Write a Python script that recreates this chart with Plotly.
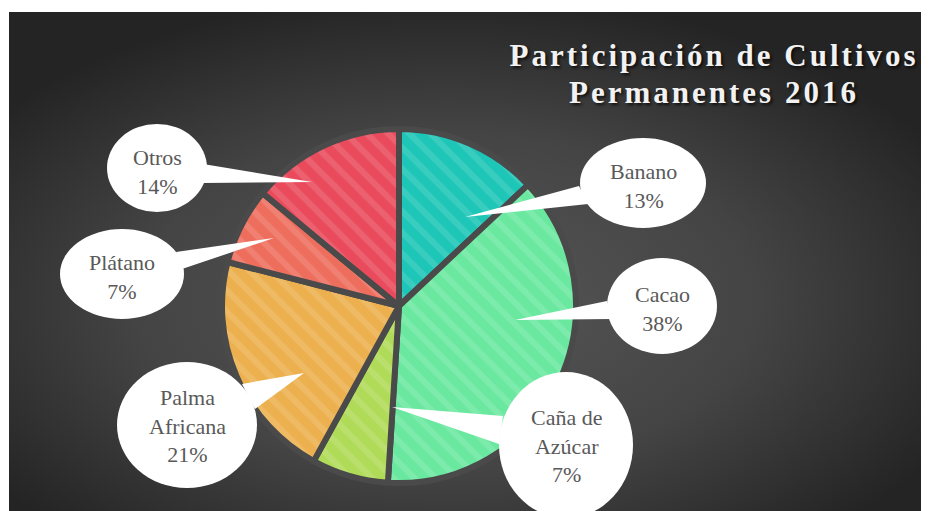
import base64
import plotly.graph_objects as go

# ---- data ----
labels = ["Banano", "Cacao", "Caña de Azúcar", "Palma Africana", "Plátano", "Otros"]
values = [13, 38, 7, 21, 7, 14]
label_text = ["Banano<br>13%", "Cacao<br>38%", "Caña de<br>Azúcar<br>7%",
              "Palma<br>Africana<br>21%", "Plátano<br>7%", "Otros<br>14%"]
colors = ["#1ec6b7", "#6ae8a0", "#b0db58", "#ecb04f", "#ee6e5d", "#e94b5c"]
title_lines = ["Participación de Cultivos", "Permanentes 2016"]

# ---- layout (pixel positions of callouts) ----
W, H = 929, 511
callouts = [  # (cx, cy, rx, ry, tip, base1, base2, text_y)
    (643, 183, 63, 45, (465, 217), (579, 186), (588, 204), 186),
    (662, 306, 55, 48, (515, 320), (607, 301), (612, 319), 309),
    (566, 445, 67, 73, (392, 407), (503, 416), (499, 444), 446),
    (187, 425, 70, 63, (304, 373), (242, 384), (255, 409), 426),
    (122, 274, 62, 45, (274, 238), (176, 252), (182, 269), 277),
    (157, 168, 50, 44, (312, 182), (203, 164), (202, 183), 172),
]

cx, cy, R = 399, 306, 177

fig = go.Figure()
fig.add_trace(go.Pie(
    labels=labels, values=values, sort=False, direction="clockwise", rotation=0,
    textinfo="none", hoverinfo="skip", showlegend=False,
    marker=dict(colors=colors, line=dict(color="#4a4a4a", width=6),
                pattern=dict(shape="\\", fillmode="overlay", fgcolor="white",
                             fgopacity=0.12, size=15, solidity=0.4)),
    domain=dict(x=[(cx - R) / W, (cx + R) / W], y=[(H - cy - R) / H, (H - cy + R) / H]),
))

# background gradient as an SVG image
svg = ('<svg xmlns="http://www.w3.org/2000/svg" width="912" height="499" viewBox="0 0 912 499" preserveAspectRatio="none">'
       '<defs><radialGradient id="g" cx="0.48" cy="0.58" r="0.62" gradientUnits="objectBoundingBox">'
       '<stop offset="0" stop-color="#575757"/><stop offset="0.55" stop-color="#444444"/>'
       '<stop offset="1" stop-color="#242424"/></radialGradient></defs>'
       '<rect width="912" height="499" fill="url(#g)"/></svg>')
uri = "data:image/svg+xml;base64," + base64.b64encode(svg.encode()).decode()

shapes = []
annotations = []
for (ex, ey, rx, ry, tip, b1, b2, ty), txt in zip(callouts, label_text):
    shapes.append(dict(type="path", xref="x", yref="y",
                       path=f"M {b1[0]},{b1[1]} L {tip[0]},{tip[1]} L {b2[0]},{b2[1]} Z",
                       fillcolor="white", line=dict(width=0)))
    shapes.append(dict(type="circle", xref="x", yref="y", x0=ex - rx, x1=ex + rx,
                       y0=ey - ry, y1=ey + ry, fillcolor="white", line=dict(width=0)))
    annotations.append(dict(x=ex, y=ty, xref="x", yref="y", text=txt, showarrow=False,
                            xanchor="center", yanchor="middle", align="center",
                            font=dict(family="Liberation Serif, Times New Roman, serif",
                                      size=22, color="#595959")))

title_y = [55, 92]
for t, yy in zip(title_lines, title_y):
    annotations.append(dict(x=714, y=yy, xref="x", yref="y", text=t, showarrow=False,
                            xanchor="center", yanchor="middle",
                            font=dict(family="Liberation Serif, Times New Roman, serif",
                                      size=31, color="#f2f2f2",
                                      weight="bold", shadow="2px 2px 3px rgba(0,0,0,0.7)")))

fig.update_layout(
    width=W, height=H, margin=dict(l=0, r=0, t=0, b=0),
    paper_bgcolor="white", plot_bgcolor="rgba(0,0,0,0)",
    xaxis=dict(range=[0, W], visible=False, fixedrange=True, domain=[0, 1]),
    yaxis=dict(range=[H, 0], visible=False, fixedrange=True, domain=[0, 1]),
    images=[dict(source=uri, xref="paper", yref="paper", x=9 / W, y=1 - 12 / H,
                 sizex=912 / W, sizey=499 / H, xanchor="left", yanchor="top",
                 sizing="stretch", layer="below")],
    shapes=shapes, annotations=annotations,
)

post = """
document.body.style.margin = '0';
document.querySelectorAll('text.annotation-text').forEach(function(el){
  var t = el.textContent;
  if (t.indexOf('Cultivos') >= 0 || t.indexOf('Permanentes') >= 0) { el.style.letterSpacing = '3px'; }
});
"""
fig.write_html("out.html", post_script=post, config={"displayModeBar": False})
